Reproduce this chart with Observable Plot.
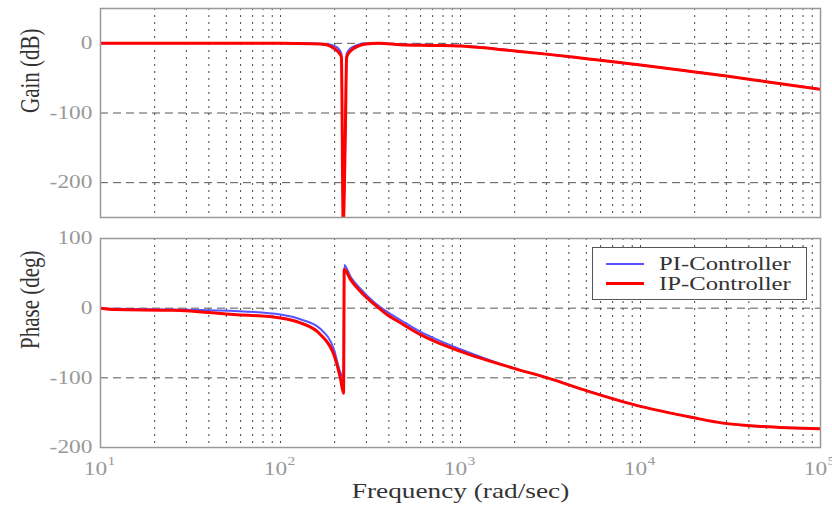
<!DOCTYPE html>
<html><head><meta charset="utf-8">
<script src="https://cdn.jsdelivr.net/npm/d3@7"></script>
<script src="https://cdn.jsdelivr.net/npm/@observablehq/plot@0.6"></script>
<style>
body{margin:0;background:#fff}
#wrap{position:relative;width:832px;height:511px;overflow:hidden;background:#fff;font-family:"Liberation Serif","Times New Roman",Times,serif}
#top,#bot{position:absolute;left:0}
#top{top:0}
#bot{top:230px}
#legend{position:absolute;left:592px;top:247px;width:213px;height:51px;border:1.5px solid #555;background:#fff}
.row{position:absolute;left:0;height:20px;width:100%}
.sw{position:absolute;left:13px;width:38px;top:10px}
.lt{position:absolute;left:66px;top:0;font-size:19px;line-height:20px;color:#333;transform:scaleX(1.3);transform-origin:left center;white-space:nowrap}
</style>
</head><body>
<div id="wrap">
  <div id="top"></div>
  <div id="bot"></div>
  <div id="legend">
    <div class="row" style="top:6px"><div class="sw" style="border-top:2px solid #5555ff;top:9px"></div><div class="lt" id="lg0"></div></div>
    <div class="row" style="top:26px"><div class="sw" style="border-top:3px solid #ff0000;top:8px"></div><div class="lt" id="lg1"></div></div>
  </div>
</div>
<script>
// ---- data ----
const seriesNames = ["PI-Controller", "IP-Controller"];
const seriesColors = ["#5555ff", "#ff0000"];

const gainFreq = [10, 100, 150, 180, 200, 212, 218, 223, 229, 233, 245, 270, 300, 350, 464, 700, 1000, 2000, 3000, 5000, 10000, 20000, 30000, 50000, 100000];
const gainPI   = [0, 0, -0.3, -1, -4, -9, -15, -260, -130, -15, -7, -2, 0, 0, -1.5, -2.5, -3.5, -10.5, -15.5, -22, -31, -41, -47, -55, -66];
const gainIP   = [0, 0, -0.5, -2, -8, -14, -20, -260, -136, -20, -11, -4, -1, 0, -2, -3, -4, -11, -15.5, -22, -31, -41, -47, -55, -66];

const phaseFreq = [10, 12, 25, 55, 100, 129, 167, 198, 215, 224, 226, 245, 278, 330, 390, 464, 600, 710, 1000, 1960, 3040, 5090, 10000, 19500, 28700, 48000, 100000];
const phasePI   = [0, -1, -2, -4, -9, -16, -30, -59, -92, -100, 62, 45, 28, 9, -5, -17, -34, -43, -59, -86, -100, -119, -141, -157, -165, -170, -173];
const phaseIP   = [0, -2, -3, -9, -14, -21, -38, -67, -100, -122, 56, 41, 24, 6, -9, -21, -38, -47, -62, -86, -100, -119, -141, -157, -165, -170, -173];

const decadeTicks = [10, 100, 1000, 10000, 100000];
const gridFreq = [20,30,40,50,60,70,80,90,100,200,300,400,500,600,700,800,900,1000,2000,3000,4000,5000,6000,7000,8000,9000,10000,20000,30000,40000,50000,60000,70000,80000,90000];
const gainTicks = [0, -100, -200];
const phaseTicks = [100, 0, -100, -200];
const phaseGrid = [0, -100];

// ---- helpers ----
const font = {fontFamily: "'Liberation Serif', 'Times New Roman', Times, serif", fontSize: "18px", background: "white", overflow: "visible"};
function stretch(svg) {
  d3.select(svg).selectAll("text").each(function() {
    const t = this.getAttribute("transform") || "";
    if (/rotate\(-90\)/.test(t)) this.setAttribute("transform", t + " scale(1,1.3)");
    else this.setAttribute("transform", t + " scale(1.3,1)");
  });
  return svg;
}
const gridStyleX = {stroke: "#333", strokeOpacity: 0.9, strokeDasharray: "2,5"};
const gridStyleY = {stroke: "#444", strokeOpacity: 0.9, strokeDasharray: "8,5"};
const numFmt = d => String(d);

const topPlot = Plot.plot({
  width: 832, height: 225,
  marginLeft: 100, marginRight: 12, marginTop: 8, marginBottom: 8,
  style: font,
  x: {type: "log", domain: [10, 1e5], axis: null},
  y: {domain: [-250, 50], axis: null},
  marks: [
    Plot.gridX(gridFreq, gridStyleX),
    Plot.gridY(gainTicks, gridStyleY),
    Plot.axisY(gainTicks, {tickSize: 0, tickPadding: 8, tickFormat: numFmt, fill: "#999", fontSize: 18, label: null}),
    Plot.text(["Gain (dB)"], {text: d => d, frameAnchor: "left", dx: -70, rotate: -90, fill: "#333", fontSize: 21}),
    Plot.line(gainPI, {x: gainFreq, y: d => d, stroke: seriesColors[0], strokeWidth: 2, curve: "monotone-x", clip: true}),
    Plot.line(gainIP, {x: gainFreq, y: d => d, stroke: seriesColors[1], strokeWidth: 3, curve: "monotone-x", clip: true}),
    Plot.frame({stroke: "#999", strokeWidth: 1.5})
  ]
});

const botPlot = Plot.plot({
  width: 832, height: 281,
  marginLeft: 100, marginRight: 12, marginTop: 8, marginBottom: 64,
  style: font,
  x: {type: "log", domain: [10, 1e5], axis: null},
  y: {domain: [-200, 100], axis: null},
  marks: [
    Plot.gridX(gridFreq, gridStyleX),
    Plot.gridY(phaseGrid, gridStyleY),
    Plot.axisY(phaseTicks, {tickSize: 0, tickPadding: 8, tickFormat: numFmt, fill: "#999", fontSize: 18, label: null}),
    Plot.axisX(decadeTicks, {anchor: "bottom", tickSize: 0, tickPadding: 15, tickFormat: () => "10", dx: -5, fill: "#999", fontSize: 18, label: null}),
    Plot.axisX(decadeTicks, {anchor: "bottom", tickSize: 0, tickPadding: 9, tickFormat: d => String(Math.round(Math.log10(d))), dx: 11, fill: "#999", fontSize: 12, label: null}),
    Plot.text(["Phase (deg)"], {text: d => d, frameAnchor: "left", dx: -70, dy: 6, rotate: -90, fill: "#333", fontSize: 21}),
    Plot.text(["Frequency (rad/sec)"], {text: d => d, frameAnchor: "bottom", dy: 50, fill: "#333", fontSize: 21}),
    Plot.line(phasePI, {x: phaseFreq, y: d => d, stroke: seriesColors[0], strokeWidth: 2, curve: "monotone-x", clip: true}),
    Plot.line(phaseIP, {x: phaseFreq, y: d => d, stroke: seriesColors[1], strokeWidth: 3, curve: "monotone-x", clip: true}),
    Plot.frame({stroke: "#999", strokeWidth: 1.5})
  ]
});

document.getElementById("top").appendChild(stretch(topPlot));
document.getElementById("bot").appendChild(stretch(botPlot));
document.getElementById("lg0").textContent = seriesNames[0];
document.getElementById("lg1").textContent = seriesNames[1];
</script>
</body></html>
